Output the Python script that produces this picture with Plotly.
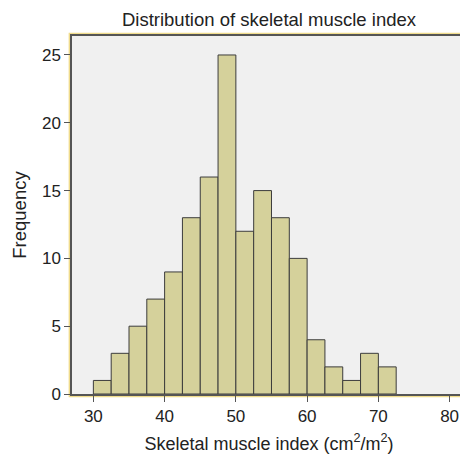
import plotly.graph_objects as go

bin_starts = [30 + 2.5 * i for i in range(17)]
counts = [1, 3, 5, 7, 9, 13, 16, 25, 12, 15, 13, 10, 4, 2, 1, 3, 2]
bin_width = 2.5
x_ticks = [30, 40, 50, 60, 70, 80]
y_ticks = [0, 5, 10, 15, 20, 25]

centers = [s + bin_width / 2 for s in bin_starts]

W, H = 460, 447  # page body has 8px default margin

fig = go.Figure()
fig.add_trace(go.Bar(
    x=centers, y=counts, width=bin_width,
    marker=dict(color="#d5d19b", line=dict(color="#3c3c3c", width=1)),
))

font = "Liberation Sans, Arial, sans-serif"
fig.update_layout(
    width=W, height=H,
    margin=dict(l=64, r=2, t=28, b=61),
    paper_bgcolor="white", plot_bgcolor="#f0f0f0",
    showlegend=False,
    font=dict(family=font, size=17, color="#222"),
    title=dict(text="Distribution of skeletal muscle index", x=(64 + 458) / 2 / W, xanchor="center",
               y=1 - 12 / H, yanchor="middle", font=dict(size=18.5, color="#222")),
    xaxis=dict(range=[27.0, 82.3], tickvals=x_ticks, ticks="outside", ticklen=6,
               tickcolor="#555", showgrid=False, zeroline=False, automargin=False,
               showline=True, linecolor="#555", linewidth=1.5, mirror=True,
               title=dict(text="Skeletal muscle index (cm<sup>2</sup>/m<sup>2</sup>)",
                          standoff=12, font=dict(size=18)),
               tickfont=dict(size=17)),
    yaxis=dict(range=[0, 26.4], tickvals=y_ticks, ticks="outside", ticklen=6,
               tickcolor="#555", showgrid=False, zeroline=False, automargin=False,
               showline=True, linecolor="#555", linewidth=1.5, mirror=True,
               title=dict(text="Frequency", standoff=10, font=dict(size=18.5)),
               tickfont=dict(size=17)),
)
fig.add_shape(type="rect", xref="paper", yref="paper",
              x0=-0.006, x1=1.01, y0=-0.006, y1=1.006,
              line=dict(color="#f0dc8c", width=2), layer="below")
fig.write_html("out.html")
